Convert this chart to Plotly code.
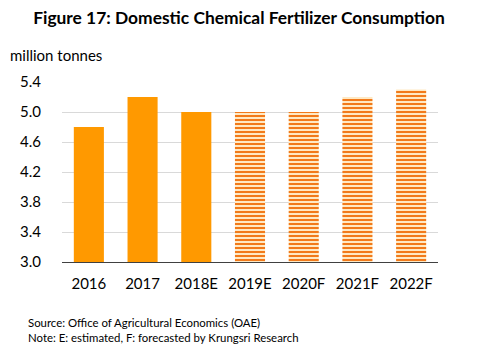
import plotly.graph_objects as go

categories = ["2016", "2017", "2018E", "2019E", "2020F", "2021F", "2022F"]
values = [4.8, 5.2, 5.0, 5.0, 5.0, 5.2, 5.3]
striped = [False, False, False, True, True, True, True]
y_ticks = [3.0, 3.4, 3.8, 4.2, 4.6, 5.0, 5.4]

W, H = 478, 351
ML, MR, MT, MB = 62, 40, 82, 89
FONT = "Lato, Carlito, Calibri, sans-serif"

solid_vals = [None if s else v for v, s in zip(values, striped)]
stripe_vals = [v if s else None for v, s in zip(values, striped)]

fig = go.Figure()
fig.add_trace(go.Bar(
    x=categories, y=solid_vals,
    marker=dict(color="#FF9900", line=dict(width=0)),
    width=0.56,
))
fig.add_trace(go.Bar(
    x=categories, y=stripe_vals,
    marker=dict(
        color="#FFE9C4",
        line=dict(width=0),
        pattern=dict(
            shape="-",
            fgcolor="#F27A1A",
            fgopacity=1,
            fillmode="overlay",
            size=4,
            solidity=0.5,
        ),
    ),
    width=0.56,
))

ph = H - MT - MB
pw = W - ML - MR

def px_to_paper_y(py):
    return (H - MB - py) / ph

def px_to_paper_x(px):
    return (px - ML) / pw

fig.update_layout(
    width=W, height=H,
    margin=dict(l=ML, r=MR, t=MT, b=MB),
    plot_bgcolor="white", paper_bgcolor="white",
    showlegend=False, barmode="overlay",
    font=dict(family=FONT, color="#000000", size=15),
    title=dict(
        text="<b>Figure 17: Domestic Chemical Fertilizer Consumption</b>",
        x=0.5, xanchor="center", y=1 - 18 / H, yanchor="middle",
        font=dict(family=FONT, size=17.4, color="#000000"),
    ),
    xaxis=dict(
        showgrid=False, showline=True, linecolor="#404040", linewidth=1,
        ticks="", tickfont=dict(size=15), ticklabelstandoff=8,
    ),
    yaxis=dict(
        range=[3.0, 5.4], tickvals=y_ticks,
        ticktext=[f"{t:.1f}" for t in y_ticks],
        showgrid=True, gridcolor="#D9D9D9", gridwidth=1,
        zeroline=False, showline=False, ticks="",
        tickfont=dict(size=15), ticklabelstandoff=20,
    ),
    annotations=[
        dict(text="million tonnes", xref="paper", yref="paper",
             x=px_to_paper_x(8), y=px_to_paper_y(55), xanchor="left", yanchor="middle",
             showarrow=False, font=dict(size=15)),
        dict(text="Source: Office of Agricultural Economics (OAE)", xref="paper", yref="paper",
             x=px_to_paper_x(26), y=px_to_paper_y(322), xanchor="left", yanchor="middle",
             showarrow=False, font=dict(size=11.4)),
        dict(text="Note: E: estimated, F: forecasted by Krungsri Research", xref="paper", yref="paper",
             x=px_to_paper_x(26), y=px_to_paper_y(337), xanchor="left", yanchor="middle",
             showarrow=False, font=dict(size=11.4)),
    ],
)

fig.write_html("out.html")
